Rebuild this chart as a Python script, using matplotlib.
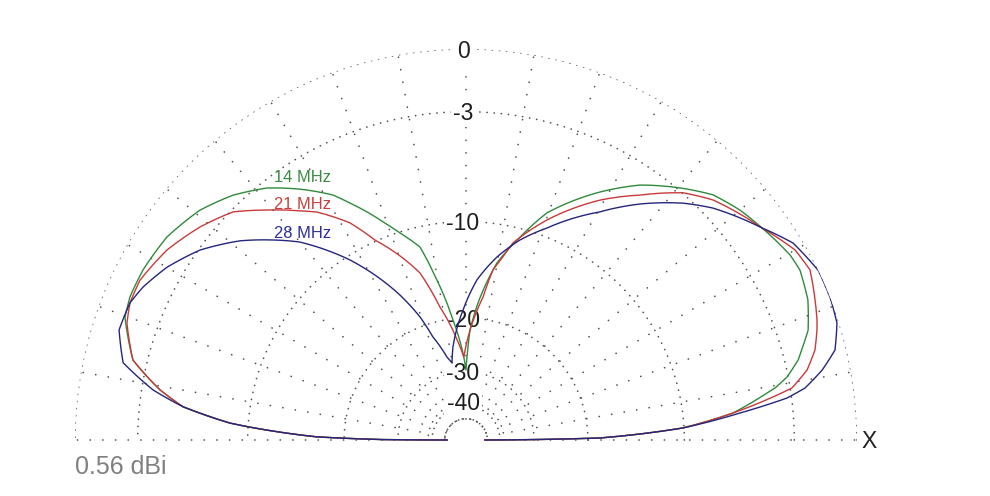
import numpy as np
import matplotlib
matplotlib.use("Agg")
import matplotlib.pyplot as plt

plt.rcParams['font.family'] = ['Liberation Sans', 'DejaVu Sans']

# ---- data (elevation angle in degrees, relative gain in dB) ----
ang_14 = [0, 0.86, 3.17, 5.77, 8.87, 9.55, 11.1, 13.6, 14.9, 17.8, 22.3, 27.0, 29.7, 35.6,
          40.0, 44.8, 49.7, 55.7, 61.6, 70.4, 75.5, 80.1, 85.0, 87.9, 90.0, 92.0, 96.2,
          100.3, 103.4, 107.7, 110.5, 116.1, 118.5, 123.5, 128.3, 133.6, 139.2, 145.8, 152.2, 156.9,
          160.2, 166.5, 170.7, 173.3, 175.9, 176.6, 178.8, 179.7, 180]
db_14 = [-52, -18.4, -10.1, -6.46, -4.29, -3.80, -3.06, -2.30, -2.05, -1.45, -0.97, -0.73, -0.80, -1.22,
         -1.53, -2.00, -2.88, -4.06, -5.61, -8.30, -10.9, -13.34, -17.94, -21.75, -29.5, -25.8, -20.17,
         -15.06, -11.65, -10.08, -8.99, -6.75, -5.81, -4.50, -3.38, -2.50, -1.82, -1.35, -1.18, -1.17,
         -1.30, -2.27, -3.98, -5.43, -8.62, -10.16, -16.55, -26.6, -52]

ang_21 = [0, 0.86, 3.17, 5.77, 7.97, 9.06, 11.6, 14.46, 17.4, 18.9, 26.3, 30.0, 35.6,
          44.2, 48.7, 54.6, 60.8, 69.8, 76.6, 78.6, 81.0, 83.2, 87.9, 91.5, 95.1,
          101.1, 105.4, 109.7, 114.5, 118.1, 123.2, 125.9, 130.9, 135.6, 141.3, 147.6, 153.9, 157.8,
          160.96, 166.5, 170.7, 173.3, 175.9, 176.6, 178.8, 179.7, 180]
db_21 = [-52, -18.4, -10.1, -6.46, -3.99, -2.91, -1.99, -1.40, -1.05, -0.90, -0.32, -0.49, -1.22,
         -2.18, -2.96, -4.52, -6.05, -8.78, -11.29, -12.69, -14.08, -17.14, -21.75, -26.6, -23.3,
         -18.19, -13.97, -11.9, -9.89, -7.95, -6.20, -5.56, -4.31, -3.12, -2.36, -1.69, -1.27, -1.28,
         -1.48, -2.27, -3.98, -5.43, -8.62, -10.16, -16.55, -26.6, -52]

ang_28 = [0, 0.86, 3.17, 5.63, 7.45, 8.72, 11.1, 13.7, 17.5, 21.3, 25.65, 31.06, 35.6,
          43.2, 47.4, 53.6, 59.6, 69.1, 74.9, 80.4, 86.1, 91.3, 98.0, 100.3, 102.9,
          107.8, 110.5, 114.5, 118.9, 122.8, 130.0, 134.4, 138.6, 144.5, 150.0, 154.7, 157.8,
          162.4, 167.3, 170.9, 173.3, 175.9, 176.6, 178.8, 179.7, 180]
db_28 = [-52, -18.4, -10.1, -6.02, -3.24, -2.25, -1.28, -0.50, -0.09, 0.0, 0.0, -0.41, -1.22,
         -2.46, -3.35, -4.94, -6.71, -9.34, -10.90, -12.79, -15.29, -18.9, -24.5, -27.6, -26.2,
         -22.05, -18.72, -15.41, -12.53, -10.33, -7.11, -5.73, -4.48, -3.07, -2.13, -1.54, -1.28,
         -1.23, -1.83, -3.60, -5.43, -8.62, -10.16, -16.55, -26.6, -52]

series_names = ['14 MHz', '21 MHz', '28 MHz']
ring_levels = [0, -3, -10, -20, -30, -40]
ring_labels = ['0', '-3', '-10', '-20', '-30', '-40']
inner_level = -50
peak_text = '0.56 dBi'
axis_text = 'X'


def arrl(db):
    # ARRL log scale: 0.89 ** (-dB/2)
    return 0.89 ** (-np.asarray(db, dtype=float) / 2.0)


W, H = 990, 496
cx, cy, R = 466, 440, 391
fig = plt.figure(figsize=(W / 100, H / 100), dpi=100)
ax = fig.add_axes([(cx - R) / W, (H - cy - R) / H, 2 * R / W, 2 * R / H], projection='polar')
ax.set_ylim(0, 1)
ax.set_axis_off()

grid_col = '#505050'
th = np.linspace(0, np.pi, 600)
r_in = float(arrl(inner_level))
for lv in ring_levels + [inner_level]:
    ax.plot(th, np.full_like(th, arrl(lv)), color=grid_col, lw=1.2,
            linestyle=(0, (0.1, 4.2)), dash_capstyle='round', zorder=1)
for a in range(0, 181, 10):
    t = np.deg2rad(a)
    ax.plot([t, t], [r_in, 1.0], color=grid_col, lw=1.2,
            linestyle=(0, (0.1, 7.5)), dash_capstyle='round', zorder=1)

for lv, lab in zip(ring_levels, ring_labels):
    ax.annotate(lab, xy=(np.pi / 2, arrl(lv)), xytext=(-3, -2), textcoords='offset pixels',
                ha='center', va='center', fontsize=16.5, color='#1e1e1e', zorder=2,
                bbox=dict(boxstyle='square,pad=0.1', fc='white', ec='none'))

colors = ['#2f8a3c', '#c83a3a', '#25257e']
text_colors = ['#3a8a42', '#c84040', '#2e2e9e']
for ang, db, c in [(ang_14, db_14, colors[0]), (ang_21, db_21, colors[1]), (ang_28, db_28, colors[2])]:
    line, = ax.plot(np.deg2rad(ang), arrl(db), color=c, lw=1.0, zorder=3,
                    solid_joinstyle='round')
    line.get_path()._interpolation_steps = 8

label_y = [177, 204, 234]
for name, ly, tc in zip(series_names, label_y, text_colors):
    fig.text(303 / W, 1 - ly / H, name, color=tc, fontsize=11.9, ha='center', va='center')

fig.text(75 / W, 1 - 467 / H, peak_text, color='#808080', fontsize=18, ha='left', va='center')
fig.text(869 / W, 1 - 441 / H, axis_text, color='#222222', fontsize=16.5, ha='center', va='center')

fig.savefig('out.png', dpi=100, facecolor='white')
